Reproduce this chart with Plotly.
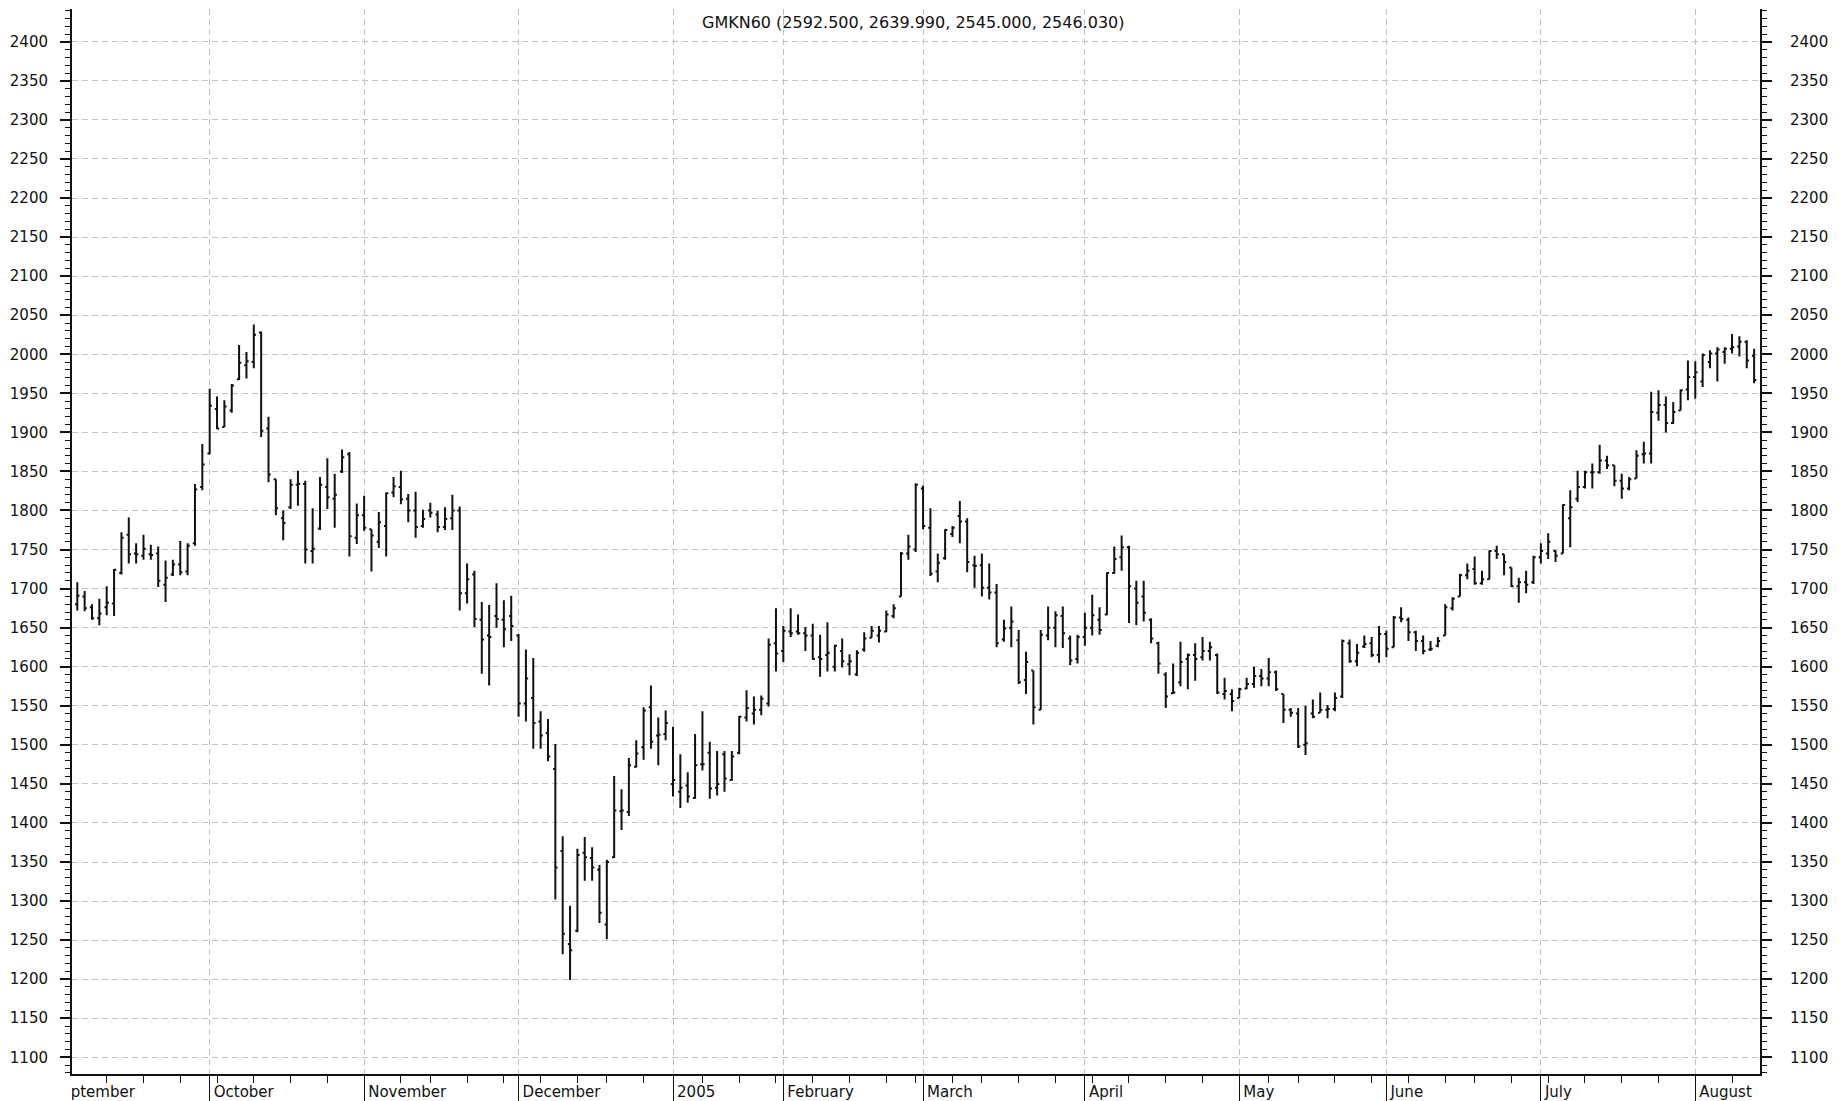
import pandas as pd
import plotly.graph_objects as go

# ---------------- data ----------------
HOLIDAYS = ["2004-11-08", "2004-12-13", "2004-12-31",
            "2005-01-03", "2005-01-04", "2005-01-05", "2005-01-06", "2005-01-07", "2005-01-10",
            "2005-02-23", "2005-03-08", "2005-05-02", "2005-05-09", "2005-06-13"]
CAL_START, FIRST_BAR, LAST_BAR = "2004-09-01", "2004-09-07", "2005-08-11"

MONTH_LABELS = ["September", "October", "November", "December", "2005", "February",
                "March", "April", "May", "June", "July", "August"]

TITLE = "GMKN60 (2592.500, 2639.990, 2545.000, 2546.030)"

# Sep 2004
open_ = [1680, 1690, 1676, 1662, 1676, 1681, 1720, 1769, 1745, 1742, 1744, 1745, 1705, 1718, 1731, 1722, 1758, 1830,
         # Oct
         1873, 1930, 1907, 1928, 1968, 1986, 1990, 2028, 1905, 1840, 1790, 1804, 1833, 1834, 1748, 1777, 1830, 1815, 1850, 1872, 1765,
         # Nov
         1794, 1776, 1760, 1780, 1823, 1830, 1815, 1800, 1780, 1800, 1795, 1779, 1790, 1800, 1694, 1718, 1660, 1640, 1665, 1660, 1665,
         # Dec
         1640, 1553, 1560, 1530, 1515, 1469, 1364, 1245, 1262, 1362, 1355, 1340, 1270, 1356, 1415, 1414, 1472, 1497, 1548, 1512, 1514,
         # Jan 2005
         1450, 1440, 1448, 1432, 1475, 1490, 1445, 1488, 1455, 1490, 1535, 1540, 1545, 1553, 1630,
         # Feb
         1620, 1645, 1645, 1643, 1640, 1612, 1615, 1600, 1620, 1603, 1590, 1622, 1637, 1640, 1645, 1665, 1690, 1745, 1750,
         # Mar
         1828, 1778, 1722, 1739, 1770, 1793, 1786, 1730, 1730, 1701, 1695, 1635, 1650, 1634, 1583, 1595, 1545, 1640, 1650, 1665, 1636, 1610,
         # Apr
         1638, 1650, 1660, 1667, 1720, 1740, 1753, 1700, 1690, 1660, 1630, 1590, 1566, 1580, 1610, 1615, 1612, 1620, 1615, 1565, 1565,
         # May
         1560, 1572, 1578, 1588, 1585, 1593, 1565, 1545, 1540, 1500, 1540, 1541, 1545, 1546, 1562, 1630, 1607, 1626, 1630, 1615,
         # Jun
         1642, 1625, 1663, 1660, 1644, 1633, 1622, 1627, 1640, 1675, 1690, 1717, 1725, 1707, 1712, 1748, 1744, 1727, 1703, 1708, 1708,
         # Jul
         1740, 1745, 1748, 1745, 1790, 1815, 1830, 1849, 1849, 1864, 1858, 1838, 1828, 1841, 1872, 1873, 1925, 1935, 1912, 1928, 1955,
         # Aug
         1971, 1965, 1990, 2001, 2003, 2007, 2010, 2016, 1998]

high = [1708, 1697, 1680, 1687, 1703, 1725, 1772, 1791, 1758, 1769, 1756, 1754, 1736, 1737, 1761, 1758, 1834, 1885,
        1956, 1946, 1941, 1962, 2012, 2003, 2038, 2029, 1920, 1840, 1800, 1840, 1851, 1838, 1803, 1843, 1867, 1847, 1878, 1875, 1809,
        1819, 1776, 1798, 1823, 1843, 1851, 1821, 1824, 1801, 1810, 1800, 1804, 1820, 1805, 1732, 1723, 1683, 1679, 1707, 1685, 1691,
        1642, 1622, 1611, 1543, 1533, 1501, 1383, 1294, 1367, 1382, 1369, 1346, 1353, 1460, 1443, 1483, 1506, 1548, 1576, 1535, 1544,
        1523, 1488, 1465, 1514, 1543, 1504, 1492, 1492, 1492, 1537, 1570, 1562, 1563, 1636, 1675,
        1652, 1675, 1667, 1651, 1655, 1641, 1657, 1628, 1636, 1616, 1621, 1644, 1652, 1652, 1672, 1680, 1747, 1769, 1835,
        1832, 1803, 1745, 1776, 1780, 1812, 1790, 1742, 1745, 1732, 1706, 1660, 1677, 1647, 1619, 1595, 1647, 1677, 1671, 1677, 1640, 1641,
        1669, 1692, 1676, 1721, 1754, 1768, 1755, 1710, 1710, 1662, 1632, 1593, 1604, 1632, 1617, 1630, 1638, 1632, 1617, 1586, 1571,
        1573, 1586, 1600, 1597, 1611, 1595, 1565, 1547, 1547, 1550, 1558, 1567, 1551, 1567, 1635, 1635, 1629, 1640, 1638, 1652,
        1646, 1665, 1676, 1663, 1646, 1640, 1633, 1638, 1680, 1689, 1719, 1732, 1741, 1723, 1749, 1755, 1744, 1727, 1714, 1723, 1742,
        1758, 1771, 1749, 1808, 1826, 1851, 1851, 1860, 1884, 1870, 1858, 1847, 1843, 1877, 1888, 1952, 1954, 1946, 1939, 1955, 1992,
        1991, 2001, 2005, 2009, 2009, 2026, 2023, 2018, 2007]

low = [1672, 1671, 1660, 1653, 1666, 1665, 1718, 1732, 1732, 1737, 1737, 1702, 1683, 1716, 1717, 1717, 1755, 1826,
       1872, 1904, 1907, 1925, 1967, 1969, 1982, 1894, 1836, 1794, 1762, 1802, 1806, 1732, 1732, 1775, 1802, 1778, 1848, 1741, 1757,
       1774, 1722, 1752, 1741, 1817, 1808, 1785, 1765, 1778, 1791, 1772, 1775, 1775, 1672, 1681, 1651, 1591, 1576, 1650, 1625, 1633,
       1536, 1530, 1495, 1495, 1479, 1302, 1232, 1199, 1260, 1326, 1326, 1272, 1251, 1355, 1391, 1409, 1471, 1481, 1495, 1474, 1506,
       1434, 1419, 1426, 1431, 1467, 1431, 1435, 1440, 1454, 1488, 1530, 1526, 1538, 1549, 1594,
       1606, 1638, 1641, 1620, 1609, 1587, 1594, 1594, 1599, 1589, 1588, 1619, 1637, 1631, 1644, 1662, 1690, 1737, 1747,
       1776, 1716, 1708, 1737, 1766, 1758, 1721, 1701, 1690, 1686, 1625, 1632, 1625, 1578, 1565, 1526, 1545, 1634, 1625, 1624, 1602, 1604,
       1627, 1640, 1641, 1666, 1719, 1723, 1656, 1653, 1658, 1630, 1591, 1547, 1565, 1575, 1571, 1582, 1608, 1608, 1565, 1558, 1543,
       1560, 1571, 1573, 1575, 1575, 1569, 1528, 1536, 1496, 1487, 1534, 1541, 1534, 1543, 1560, 1605, 1601, 1624, 1612, 1605,
       1612, 1625, 1657, 1633, 1620, 1616, 1620, 1625, 1640, 1672, 1690, 1712, 1705, 1705, 1712, 1738, 1717, 1702, 1682, 1694, 1706,
       1732, 1738, 1734, 1745, 1753, 1811, 1828, 1828, 1847, 1853, 1831, 1815, 1826, 1841, 1860, 1860, 1915, 1900, 1911, 1928, 1941,
       1943, 1958, 1982, 1965, 1988, 2001, 1997, 1982, 1963]

close = [1691, 1675, 1662, 1668, 1682, 1724, 1765, 1744, 1744, 1751, 1743, 1710, 1714, 1731, 1721, 1755, 1827, 1859,
         1934, 1905, 1933, 1960, 1989, 1991, 2025, 1902, 1846, 1803, 1784, 1833, 1834, 1750, 1751, 1833, 1817, 1820, 1868, 1767, 1794,
         1778, 1768, 1785, 1822, 1831, 1814, 1800, 1779, 1789, 1797, 1779, 1789, 1800, 1694, 1712, 1661, 1635, 1638, 1661, 1648, 1652,
         1553, 1585, 1528, 1512, 1485, 1343, 1258, 1237, 1359, 1356, 1343, 1285, 1350, 1416, 1416, 1474, 1489, 1544, 1504, 1513, 1528,
         1455, 1445, 1434, 1474, 1475, 1444, 1450, 1457, 1485, 1536, 1547, 1545, 1559, 1628, 1617,
         1646, 1643, 1643, 1640, 1610, 1610, 1618, 1627, 1607, 1607, 1618, 1636, 1646, 1646, 1667, 1675, 1745, 1754, 1833,
         1780, 1719, 1733, 1775, 1778, 1786, 1734, 1729, 1701, 1695, 1630, 1649, 1658, 1580, 1606, 1548, 1641, 1650, 1666, 1643, 1608, 1638,
         1650, 1666, 1647, 1720, 1738, 1753, 1703, 1682, 1669, 1636, 1604, 1562, 1567, 1606, 1615, 1610, 1620, 1625, 1567, 1569, 1556,
         1571, 1578, 1588, 1585, 1593, 1571, 1545, 1541, 1498, 1502, 1536, 1545, 1546, 1560, 1633, 1607, 1618, 1629, 1615, 1642,
         1623, 1663, 1661, 1644, 1633, 1620, 1623, 1633, 1676, 1687, 1717, 1723, 1707, 1712, 1748, 1744, 1734, 1703, 1708, 1705, 1740,
         1748, 1760, 1742, 1807, 1804, 1830, 1849, 1849, 1864, 1858, 1838, 1828, 1840, 1870, 1873, 1926, 1935, 1912, 1926, 1954, 1971,
         1977, 1999, 2001, 2006, 2007, 2009, 2016, 1992, 1967]

Y_MIN, Y_MAX, Y_STEP = 1100, 2400, 50

# ---------------- trading calendar ----------------
cal = [d for d in pd.bdate_range(CAL_START, LAST_BAR) if d.strftime("%Y-%m-%d") not in HOLIDAYS]
pos = {d.strftime("%Y-%m-%d"): i for i, d in enumerate(cal)}
dates = [d.strftime("%Y-%m-%d") for d in cal if d >= pd.Timestamp(FIRST_BAR)]
x = [pos[d] for d in dates]

month_pos, week_pos = [], []
for i, d in enumerate(cal):
    if i == 0 or d.month != cal[i - 1].month:
        month_pos.append(i)
    elif d.isocalendar()[1] != cal[i - 1].isocalendar()[1]:
        week_pos.append(i)

oct_pos = month_pos[1]
x_range = [oct_pos - 18.72, oct_pos + 210.8]
LABEL_SHIFT = 0.55  # small gap between month divider and its label (in trading days)

FONT = "DejaVu Sans"
INK = "#111111"
GRID = "#c2c2c2"

fig = go.Figure()
fig.add_trace(go.Ohlc(
    x=x, open=open_, high=high, low=low, close=close,
    increasing=dict(line=dict(color=INK, width=2)),
    decreasing=dict(line=dict(color=INK, width=2)),
    tickwidth=0.3, showlegend=False, hovertext=dates,
))
# invisible trace to bring up the right-hand price axis
fig.add_trace(go.Scatter(x=[x[0]], y=[low[0]], yaxis="y2", mode="markers",
                         marker=dict(opacity=0), hoverinfo="skip", showlegend=False))
# month labels in a thin strip under the plot (clipped at the axes like the original)
fig.add_trace(go.Scatter(x=[p + LABEL_SHIFT for p in month_pos], y=[0.3] * len(month_pos),
                         xaxis="x2", yaxis="y3",
                         mode="text", text=MONTH_LABELS, textposition="middle right",
                         textfont=dict(family=FONT, size=15, color=INK),
                         cliponaxis=True, hoverinfo="skip", showlegend=False))

strip = 27 / 1092
yaxis_common = dict(
    range=[1078.6, 2442], tickmode="linear", tick0=Y_MIN, dtick=Y_STEP,
    ticks="outside", ticklen=10, tickwidth=1.5, tickcolor=INK,
    minor=dict(dtick=10, ticklen=5, tickwidth=1, tickcolor=INK, ticks="outside", showgrid=False),
    showline=True, linecolor=INK, linewidth=2, zeroline=False,
    tickfont=dict(family=FONT, size=15, color=INK),
)
fig.update_layout(
    width=1847, height=1101,
    margin=dict(l=72, r=87, t=9, b=0),
    paper_bgcolor="white", plot_bgcolor="white",
    xaxis=dict(range=x_range, tickmode="array", tickvals=month_pos, showticklabels=False,
               ticks="outside", ticklen=27, tickwidth=1, tickcolor=INK,
               minor=dict(tickmode="array", tickvals=week_pos, ticks="outside", ticklen=7,
                          tickwidth=1, tickcolor=INK, showgrid=False),
               showgrid=True, gridcolor=GRID, griddash="6px,4px", gridwidth=1,
               showline=True, linecolor=INK, linewidth=2, zeroline=False,
               rangeslider=dict(visible=False), anchor="y"),
    yaxis=dict(domain=[strip, 1], side="left", showgrid=True, gridcolor=GRID,
               griddash="6px,4px", gridwidth=1, ticklabelstandoff=9, **yaxis_common),
    yaxis2=dict(overlaying="y", side="right", showgrid=False, matches="y", anchor="x",
                ticklabelstandoff=15, **yaxis_common),
    xaxis2=dict(matches="x", anchor="y3", visible=False, domain=[0, 1]),
    yaxis3=dict(domain=[0, strip], range=[0, 1], visible=False, anchor="x2"),
    annotations=[dict(text=TITLE, xref="paper", yref="paper", x=0.4985, y=(1101 - 23) / 1092,
                      xanchor="center", yanchor="middle", showarrow=False,
                      font=dict(family=FONT, size=16, color=INK))],
)

fig.write_html("out.html", config={"displayModeBar": False},
               post_script="document.body.style.margin='0';document.body.style.overflow='hidden';")
